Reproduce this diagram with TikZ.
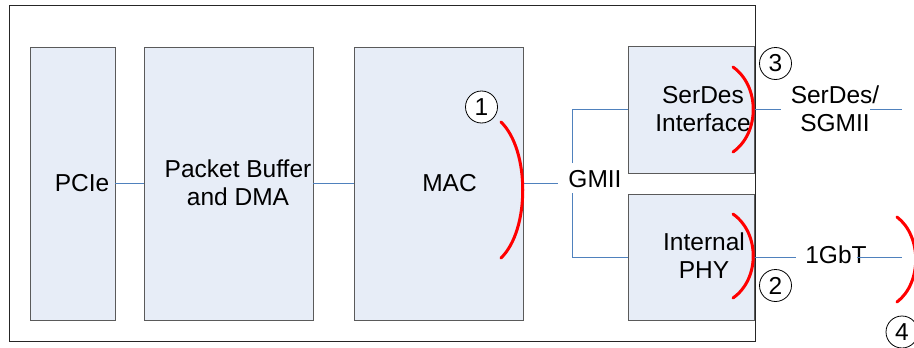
\documentclass[tikz,border=0pt]{standalone}
\usepackage{fontspec}
\setmainfont{Liberation Sans}
\usetikzlibrary{positioning,calc}
\definecolor{boxfill}{RGB}{231,237,247}
\definecolor{boxline}{RGB}{90,90,90}
\definecolor{wireblue}{RGB}{79,129,189}
\tikzset{font=\fontsize{24.5}{28}\selectfont}
\tikzset{
	blk/.style={draw=boxline, fill=boxfill, line width=0.9pt, inner sep=0pt},
	lbl/.style={align=center, inner sep=0pt},
	wire/.style={draw=wireblue, line width=0.9pt},
	redarc/.style={draw=red, line width=3pt, line cap=round},
	num/.style={circle, draw=black, fill=white, line width=0.8pt, minimum size=32pt, inner sep=0pt}
}

\begin{document}
\begin{tikzpicture}[x=1pt, y=-1pt]
	\useasboundingbox (0,0) rectangle (914,348);
	\draw[line width=0.9pt, draw=black!85] (9,5) rectangle (755,341);

	\begin{scope}
		\node[blk, minimum width=85pt, minimum height=273pt] (pcie) at (72.5,183.5) {};
		\node[blk, minimum width=169pt, minimum height=273pt] (pbuf) at (228.5,183.5) {};
		\node[blk, minimum width=169pt, minimum height=273pt] (mac) at (438.5,183.5) {};
		\node[blk, minimum width=126pt, minimum height=127pt] (serdes) at (691,109.5) {};
		\node[blk, minimum width=126pt, minimum height=126pt] (phy) at (691,257) {};

		\node[lbl] (pcietxt) at (82,183) {PCIe};
		\node[lbl] (pbuftxt) at (238,183) {Packet Buffer\\and DMA};
		\node[lbl] (mactxt) at (449.5,183) {MAC};
		\node[lbl] (serdestxt) at (703,109) {SerDes\\Interface};
		\node[lbl] (phytxt) at (704,256) {Internal\\PHY};

		\node[lbl, inner xsep=10pt] (gmii) at (595,179) {GMII};
		\node[lbl, inner xsep=10pt] (sgmii) at (835,109) {SerDes/\\SGMII};
		\node[lbl, inner xsep=9pt] (gbt) at (836,255) {1GbT};

		\coordinate (gup) at (572,163);
		\coordinate (gdn) at (572,193);
		\coordinate (sgin) at (870,109.5);
		\coordinate (sgout) at (902,109.5);
		\coordinate (gbin) at (857,257);
		\coordinate (gbout) at (902,257);

		\draw[wire] (pcie.east) -- (pbuf.west);
		\draw[wire] (pbuf.east) -- (mac.west);
		\draw[wire] (mac.east) -- (mac.east -| gmii.west);
		\draw[wire] (gup) |- (serdes.west);
		\draw[wire] (gdn) |- (phy.west);
		\draw[wire] (serdes.east) -- (serdes.east -| sgmii.west);
		\draw[wire] (sgin) -- (sgout);
		\draw[wire] (phy.east) -- (phy.east -| gbt.west);
		\draw[wire] (gbin) -- (gbout);

		\draw[redarc] (501,122) .. controls (530,150) and (530,230) .. (501,258);
		\draw[redarc] (733,67) .. controls (760,86) and (760,133) .. (733,152);
		\draw[redarc] (733,214) .. controls (760,233) and (760,279) .. (733,298);
		\draw[redarc] (897,217) .. controls (922,236) and (922,283) .. (897,302);

		\node[num] (n1) at (481.5,107) {1};
		\node[num] (n2) at (775.5,285.5) {2};
		\node[num] (n3) at (775.5,63.5) {3};
		\node[num] (n4) at (902,332) {4};
	\end{scope}
\end{tikzpicture}
\end{document}
